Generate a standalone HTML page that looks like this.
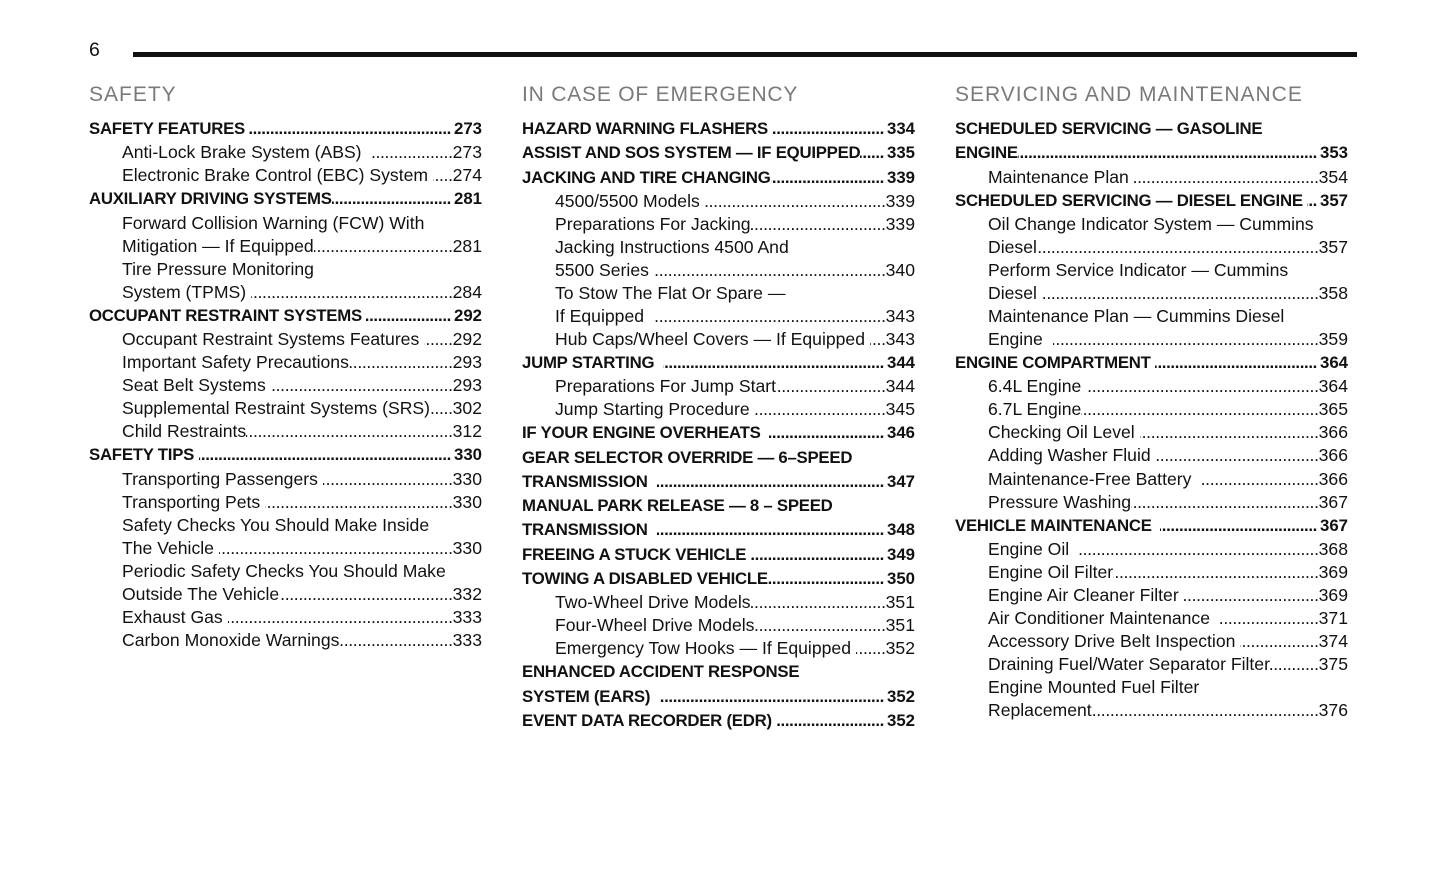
<!DOCTYPE html>
<html><head><meta charset="utf-8">
<style>
html,body{margin:0;padding:0;background:#fff;}
body{width:1445px;height:874px;position:relative;overflow:hidden;font-family:"Liberation Sans",Arial,sans-serif;color:#111;}
.pn{position:absolute;left:89px;top:40px;font-size:19.5px;line-height:20px;}
.rule{position:absolute;left:133px;top:52px;width:1224px;height:5px;background:#111;}
.h{position:absolute;top:83px;font-size:21px;line-height:24px;color:#7a7a7a;letter-spacing:1px;white-space:nowrap;}
.col{position:absolute;top:117px;width:393px;}
.r{display:flex;white-space:pre;height:23.05px;line-height:23.05px;font-size:17.6px;padding-left:33px;}
.r.b{height:24.26px;line-height:24.26px;font-size:16.8px;font-weight:bold;letter-spacing:-0.25px;padding-left:0;}
.r span{flex:0 0 auto;}
.r i{flex:1 1 auto;min-width:0;overflow:hidden;direction:rtl;font-style:normal;letter-spacing:-0.35px;}
.r i::before{content:"..............................................................................................................................................";}
.r em{flex:0 0 auto;font-style:normal;}
.r.b em{padding-left:3px;letter-spacing:0;}
</style></head><body>
<div class="pn">6</div>
<div class="rule"></div>
<div class="h" style="left:89px">SAFETY</div>
<div class="h" style="left:522px;letter-spacing:0.8px">IN CASE OF EMERGENCY</div>
<div class="h" style="left:955px">SERVICING AND MAINTENANCE</div>

<div class="col" style="left:89px">
<div class="r b"><span>SAFETY FEATURES </span><i></i><em>273</em></div>
<div class="r"><span>Anti-Lock Brake System (ABS)  </span><i></i><em>273</em></div>
<div class="r"><span>Electronic Brake Control (EBC) System </span><i></i><em>274</em></div>
<div class="r b"><span>AUXILIARY DRIVING SYSTEMS</span><i></i><em>281</em></div>
<div class="r"><span>Forward Collision Warning (FCW) With</span></div>
<div class="r"><span>Mitigation — If Equipped</span><i></i><em>281</em></div>
<div class="r"><span>Tire Pressure Monitoring</span></div>
<div class="r"><span>System (TPMS) </span><i></i><em>284</em></div>
<div class="r b"><span>OCCUPANT RESTRAINT SYSTEMS </span><i></i><em>292</em></div>
<div class="r"><span>Occupant Restraint Systems Features </span><i></i><em>292</em></div>
<div class="r"><span>Important Safety Precautions</span><i></i><em>293</em></div>
<div class="r"><span>Seat Belt Systems </span><i></i><em>293</em></div>
<div class="r"><span>Supplemental Restraint Systems (SRS)</span><i></i><em>302</em></div>
<div class="r"><span>Child Restraints</span><i></i><em>312</em></div>
<div class="r b"><span>SAFETY TIPS </span><i></i><em>330</em></div>
<div class="r"><span>Transporting Passengers </span><i></i><em>330</em></div>
<div class="r"><span>Transporting Pets </span><i></i><em>330</em></div>
<div class="r"><span>Safety Checks You Should Make Inside</span></div>
<div class="r"><span>The Vehicle </span><i></i><em>330</em></div>
<div class="r"><span>Periodic Safety Checks You Should Make</span></div>
<div class="r"><span>Outside The Vehicle</span><i></i><em>332</em></div>
<div class="r"><span>Exhaust Gas </span><i></i><em>333</em></div>
<div class="r"><span>Carbon Monoxide Warnings</span><i></i><em>333</em></div>
</div>

<div class="col" style="left:522px">
<div class="r b"><span>HAZARD WARNING FLASHERS </span><i></i><em>334</em></div>
<div class="r b"><span>ASSIST AND SOS SYSTEM — IF EQUIPPED</span><i></i><em>335</em></div>
<div class="r b"><span>JACKING AND TIRE CHANGING</span><i></i><em>339</em></div>
<div class="r"><span>4500/5500 Models </span><i></i><em>339</em></div>
<div class="r"><span>Preparations For Jacking</span><i></i><em>339</em></div>
<div class="r"><span>Jacking Instructions 4500 And</span></div>
<div class="r"><span>5500 Series </span><i></i><em>340</em></div>
<div class="r"><span>To Stow The Flat Or Spare —</span></div>
<div class="r"><span>If Equipped  </span><i></i><em>343</em></div>
<div class="r"><span>Hub Caps/Wheel Covers — If Equipped </span><i></i><em>343</em></div>
<div class="r b"><span>JUMP STARTING  </span><i></i><em>344</em></div>
<div class="r"><span>Preparations For Jump Start</span><i></i><em>344</em></div>
<div class="r"><span>Jump Starting Procedure </span><i></i><em>345</em></div>
<div class="r b"><span>IF YOUR ENGINE OVERHEATS  </span><i></i><em>346</em></div>
<div class="r b"><span>GEAR SELECTOR OVERRIDE — 6–SPEED</span></div>
<div class="r b"><span>TRANSMISSION  </span><i></i><em>347</em></div>
<div class="r b"><span>MANUAL PARK RELEASE — 8 – SPEED</span></div>
<div class="r b"><span>TRANSMISSION  </span><i></i><em>348</em></div>
<div class="r b"><span>FREEING A STUCK VEHICLE </span><i></i><em>349</em></div>
<div class="r b"><span>TOWING A DISABLED VEHICLE</span><i></i><em>350</em></div>
<div class="r"><span>Two-Wheel Drive Models</span><i></i><em>351</em></div>
<div class="r"><span>Four-Wheel Drive Models</span><i></i><em>351</em></div>
<div class="r"><span>Emergency Tow Hooks — If Equipped </span><i></i><em>352</em></div>
<div class="r b"><span>ENHANCED ACCIDENT RESPONSE</span></div>
<div class="r b"><span>SYSTEM (EARS)  </span><i></i><em>352</em></div>
<div class="r b"><span>EVENT DATA RECORDER (EDR) </span><i></i><em>352</em></div>
</div>

<div class="col" style="left:955px">
<div class="r b"><span>SCHEDULED SERVICING — GASOLINE</span></div>
<div class="r b"><span>ENGINE</span><i></i><em>353</em></div>
<div class="r"><span>Maintenance Plan </span><i></i><em>354</em></div>
<div class="r b"><span>SCHEDULED SERVICING — DIESEL ENGINE </span><i></i><em>357</em></div>
<div class="r"><span>Oil Change Indicator System — Cummins</span></div>
<div class="r"><span>Diesel</span><i></i><em>357</em></div>
<div class="r"><span>Perform Service Indicator — Cummins</span></div>
<div class="r"><span>Diesel </span><i></i><em>358</em></div>
<div class="r"><span>Maintenance Plan — Cummins Diesel</span></div>
<div class="r"><span>Engine  </span><i></i><em>359</em></div>
<div class="r b"><span>ENGINE COMPARTMENT </span><i></i><em>364</em></div>
<div class="r"><span>6.4L Engine </span><i></i><em>364</em></div>
<div class="r"><span>6.7L Engine</span><i></i><em>365</em></div>
<div class="r"><span>Checking Oil Level </span><i></i><em>366</em></div>
<div class="r"><span>Adding Washer Fluid </span><i></i><em>366</em></div>
<div class="r"><span>Maintenance-Free Battery  </span><i></i><em>366</em></div>
<div class="r"><span>Pressure Washing</span><i></i><em>367</em></div>
<div class="r b"><span>VEHICLE MAINTENANCE  </span><i></i><em>367</em></div>
<div class="r"><span>Engine Oil  </span><i></i><em>368</em></div>
<div class="r"><span>Engine Oil Filter</span><i></i><em>369</em></div>
<div class="r"><span>Engine Air Cleaner Filter </span><i></i><em>369</em></div>
<div class="r"><span>Air Conditioner Maintenance  </span><i></i><em>371</em></div>
<div class="r"><span>Accessory Drive Belt Inspection </span><i></i><em>374</em></div>
<div class="r"><span>Draining Fuel/Water Separator Filter</span><i></i><em>375</em></div>
<div class="r"><span>Engine Mounted Fuel Filter</span></div>
<div class="r"><span>Replacement</span><i></i><em>376</em></div>
</div>
</body></html>
